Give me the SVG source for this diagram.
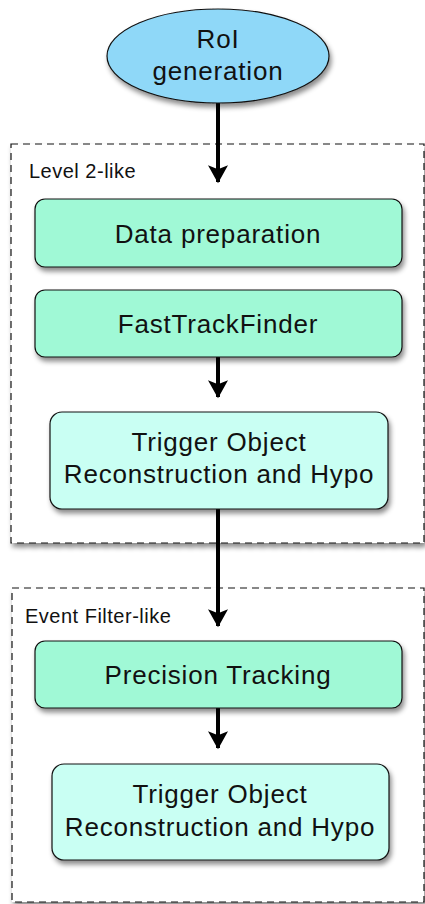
<svg xmlns="http://www.w3.org/2000/svg" width="425" height="904" viewBox="0 0 425 904">
<style>
text{font-family:"Liberation Sans",Arial,sans-serif;fill:#111;text-anchor:middle}
.lbl{font-size:26px;letter-spacing:0.8px}
.grp{font-size:20px;letter-spacing:0.5px;text-anchor:start}
.frame{fill:#fff;stroke:#111;stroke-width:1.2;stroke-dasharray:7,5}
.g{fill:#a0f9d6;stroke:#111;stroke-width:1.2}
.c{fill:#c9fff3;stroke:#111;stroke-width:1.2}
.e{fill:#8fd8f8;stroke:#111;stroke-width:1.2}
.conn{stroke:#000;stroke-width:4;fill:none}
</style>
<defs>
<filter id="sh" x="-10%" y="-10%" width="130%" height="140%">
<feDropShadow dx="2" dy="4" stdDeviation="2.5" flood-color="#000" flood-opacity="0.45"/>
</filter>
<marker id="ah" markerWidth="5" markerHeight="5" refX="4.2" refY="2.5" orient="auto" markerUnits="strokeWidth">
<path d="M0,0 L4.5,2.5 L0,5 L1,2.5 Z" fill="#000"/>
</marker>
</defs>
<g id="level2" filter="url(#sh)">
<rect class="frame" x="11" y="144" width="413" height="399"/>
</g>
<text class="grp" x="29" y="178">Level 2-like</text>
<g id="eventfilter" filter="url(#sh)">
<rect class="frame" x="12" y="588" width="412" height="314"/>
</g>
<text class="grp" x="25" y="623">Event Filter-like</text>
<g id="connectors">
<line class="conn" x1="218" y1="103" x2="218" y2="182" marker-end="url(#ah)"/>
<line class="conn" x1="218" y1="357" x2="218" y2="397" marker-end="url(#ah)"/>
<line class="conn" x1="218" y1="509" x2="218" y2="626" marker-end="url(#ah)"/>
<line class="conn" x1="218" y1="708" x2="218" y2="748" marker-end="url(#ah)"/>
</g>
<g id="roi">
<ellipse class="e" cx="218" cy="56" rx="111" ry="47" filter="url(#sh)"/>
<text class="lbl" x="218" y="48">RoI</text>
<text class="lbl" x="218" y="80">generation</text>
</g>
<g id="dataprep">
<rect class="g" x="35" y="199" width="367" height="68" rx="10" filter="url(#sh)"/>
<text class="lbl" x="218" y="243">Data preparation</text>
</g>
<g id="ftf">
<rect class="g" x="35" y="290" width="367" height="67" rx="10" filter="url(#sh)"/>
<text class="lbl" x="218" y="333">FastTrackFinder</text>
</g>
<g id="trig1">
<rect class="c" x="50" y="412" width="338" height="97" rx="12" filter="url(#sh)"/>
<text class="lbl" x="219" y="451">Trigger Object</text>
<text class="lbl" x="219" y="483">Reconstruction and Hypo</text>
</g>
<g id="prec">
<rect class="g" x="35" y="641" width="367" height="67" rx="10" filter="url(#sh)"/>
<text class="lbl" x="218" y="684">Precision Tracking</text>
</g>
<g id="trig2">
<rect class="c" x="52" y="764" width="337" height="96" rx="12" filter="url(#sh)"/>
<text class="lbl" x="220" y="803">Trigger Object</text>
<text class="lbl" x="220" y="836">Reconstruction and Hypo</text>
</g>
</svg>
